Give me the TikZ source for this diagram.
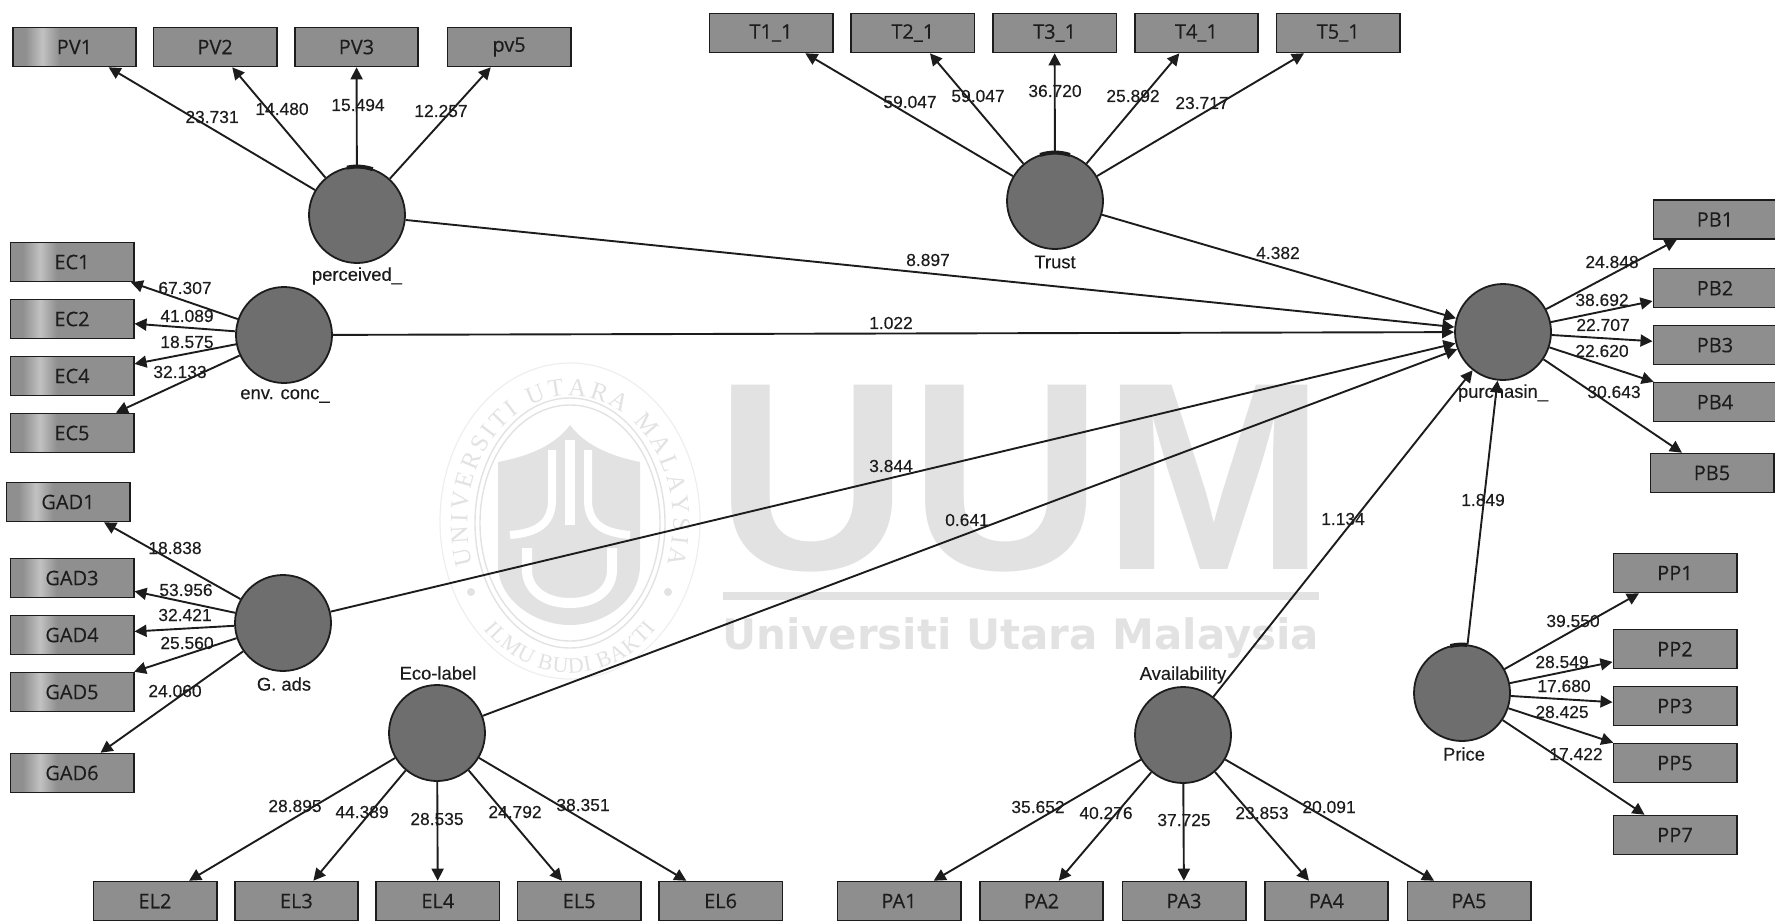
\documentclass[tikz,border=0pt]{standalone}
\usepackage{fontspec}
\usepackage{xcolor}
\usepackage{tikz}
\usetikzlibrary{arrows.meta, positioning, shapes.geometric, decorations.text}
\setmainfont{Liberation Sans}
\newfontfamily\weightfont[FakeBold=0.25]{Liberation Sans}
\newfontfamily\boxfont[FakeBold=0.2]{Open Sans}
\newfontfamily\sealfont{Liberation Serif}
\newfontfamily\bannerfont{DejaVu Sans}
\definecolor{boxgray}{HTML}{8E8E8E}
\definecolor{circlegray}{HTML}{6E6E6E}
\definecolor{inkgray}{HTML}{1C1C1C}
\definecolor{markgray}{HTML}{E2E2E2}
\pgfdeclarehorizontalshading{boxband}{100bp}{rgb(0bp)=(0.56,0.56,0.56); rgb(30bp)=(0.56,0.56,0.56); rgb(37bp)=(0.76,0.76,0.76); rgb(44bp)=(0.56,0.56,0.56); rgb(100bp)=(0.56,0.56,0.56)}

\begin{document}
\begin{tikzpicture}[
    x=0.5pt, y=-0.5pt,
    node distance=8.2pt,
    every node/.style={text=inkgray, align=center},
    indicator/.style={rectangle, draw=inkgray, fill=boxgray, minimum width=61.7pt, minimum height=19.5pt, line width=0.8pt, inner sep=0pt, font=\boxfont\fontsize{10}{10}\selectfont},
    bandindicator/.style={indicator, shading=boxband},
    latent/.style={circle, draw=inkgray, fill=circlegray, minimum size=48pt, line width=0.9pt, inner sep=0pt},
    weight/.style={inner sep=0pt, font=\weightfont\fontsize{8.7}{9}\selectfont},
    caption/.style={inner sep=0pt, font=\weightfont\fontsize{9.2}{10}\selectfont},
    arrow/.style={-{Triangle[length=6pt, width=6pt]}, line width=0.95pt, draw=inkgray},
    patch/.style={line width=2pt, draw=inkgray}
]
\useasboundingbox (0,0) rectangle (1775,921);

% Watermark
\node (bigname) [inner sep=0pt, text=markgray, font=\fontsize{134}{134}\bfseries\selectfont] at (1021,479) {UUM};
\fill [markgray] (723,592) rectangle (1319,600);
\node (fullname) [inner sep=0pt, text=markgray, font=\bannerfont\bfseries\fontsize{21}{22}\selectfont] at (1021,638) {Universiti Utara Malaysia};
\draw [markgray!60, line width=0.6pt] (570,521) ellipse [x radius=65pt, y radius=79pt];
\draw [markgray, line width=0.7pt] (570,523) ellipse [x radius=47.5pt, y radius=62.5pt];
\draw [markgray, line width=0.7pt] (570,523) ellipse [x radius=45pt, y radius=59pt];
\path [decorate, decoration={text along path, text align=fit to path, text={|\sealfont\fontsize{12.5}{13}\selectfont\color{markgray}|UNIVERSITI UTARA MALAYSIA}}] (473,564) arc [start angle=199, end angle=-19, x radius=51.5pt, y radius=63.5pt];
\path [decorate, decoration={text along path, text align=fit to path, text={|\sealfont\fontsize{11}{12}\selectfont\color{markgray}|ILMU BUDI BAKTI}}] (484,629) arc [start angle=225, end angle=315, x radius=61pt, y radius=75pt];
\fill [markgray] (471,592) circle [radius=2pt];
\fill [markgray] (668,592) circle [radius=2pt];
\fill [markgray] (498,462) .. controls (530,456) and (555,445) .. (570,425) .. controls (585,445) and (610,456) .. (640,462) -- (640,565) .. controls (640,600) and (605,625) .. (570,625) .. controls (535,625) and (498,600) .. (498,565) -- cycle;
\draw [white, line width=5pt] (570,440) -- (570,525);
\draw [white, line width=4pt] (552,450) -- (552,500) .. controls (552,525) and (535,533) .. (510,535);
\draw [white, line width=4pt] (588,450) -- (588,500) .. controls (588,525) and (605,533) .. (630,535);
\draw [white, line width=5pt] (527,548) -- (527,570) .. controls (527,590) and (545,603) .. (570,603) .. controls (595,603) and (612,590) .. (612,570) -- (612,548);

% Latent variables
\node (perceived) [latent] at (357,215) {};
\node (envconc) [latent] at (284,335) {};
\node (gads) [latent] at (283,623) {};
\node (ecolabel) [latent] at (437,733) {};
\node (availability) [latent] at (1183,735) {};
\node (price) [latent] at (1462,693) {};
\node (trust) [latent] at (1055,201) {};
\node (purchasing) [latent] at (1503,332) {};

\draw [patch] ([shift={(102:24.2pt)}]perceived.center) arc [start angle=102, end angle=71, radius=24.2pt];
\draw [patch] ([shift={(108:24.2pt)}]trust.center) arc [start angle=108, end angle=72, radius=24.2pt];
\draw [patch] ([shift={(104:24.2pt)}]price.center) arc [start angle=104, end angle=84, radius=24.2pt];

\node (perceivedname) [caption] at (357,276) {perceived\_};
\node (envconcname) [caption] at (285,396) {env. conc\_};
\node (gadsname) [caption] at (284,684) {G. ads};
\node (ecolabelname) [caption] at (438,673) {Eco-label};
\node (availabilityname) [caption] at (1183,675) {Availability};
\node (pricename) [caption] at (1464,754) {Price};
\node (trustname) [caption] at (1055,262) {Trust};
\node (purchasingname) [caption] at (1503,393) {purchasin\_};

% Indicators
\node (PV1) [bandindicator] at (74.5,47) {PV1};
\node (PV2) [indicator, right=7.8pt of PV1] {PV2};
\node (PV3) [indicator, right=of PV2] {PV3};
\node (pv5) [indicator, right=13.8pt of PV3] {pv5};

\node (EC1) [bandindicator] at (72,262) {EC1};
\node (EC2) [bandindicator, below=of EC1] {EC2};
\node (EC4) [bandindicator, below=of EC2] {EC4};
\node (EC5) [bandindicator, below=of EC4] {EC5};

\node (GAD1) [bandindicator] at (68,502) {GAD1};
\node (GAD3) [bandindicator] at (72,578) {GAD3};
\node (GAD4) [bandindicator, below=of GAD3] {GAD4};
\node (GAD5) [bandindicator, below=of GAD4] {GAD5};
\node (GAD6) [bandindicator, below=20.2pt of GAD5] {GAD6};

\node (EL2) [indicator] at (155,901) {EL2};
\node (EL3) [indicator, right=of EL2] {EL3};
\node (EL4) [indicator, right=of EL3] {EL4};
\node (EL5) [indicator, right=of EL4] {EL5};
\node (EL6) [indicator, right=of EL5] {EL6};

\node (PA1) [indicator] at (899,901) {PA1};
\node (PA2) [indicator, right=8.75pt of PA1] {PA2};
\node (PA3) [indicator, right=8.75pt of PA2] {PA3};
\node (PA4) [indicator, right=8.75pt of PA3] {PA4};
\node (PA5) [indicator, right=8.75pt of PA4] {PA5};

\node (T1) [indicator] at (771,33) {T1\_1};
\node (T2) [indicator, right=8.4pt of T1] {T2\_1};
\node (T3) [indicator, right=8.4pt of T2] {T3\_1};
\node (T4) [indicator, right=8.4pt of T3] {T4\_1};
\node (T5) [indicator, right=8.4pt of T4] {T5\_1};

\node (PB1) [indicator] at (1715,219.5) {PB1};
\node (PB2) [indicator, below=14pt of PB1] {PB2};
\node (PB3) [indicator, below=of PB2] {PB3};
\node (PB4) [indicator, below=of PB3] {PB4};
\node (PB5) [indicator] at (1712,473) {PB5};

\node (PP1) [indicator] at (1675,573) {PP1};
\node (PP2) [indicator, below=17.7pt of PP1] {PP2};
\node (PP3) [indicator, below=of PP2] {PP3};
\node (PP5) [indicator, below=of PP3] {PP5};
\node (PP7) [indicator, below=15.7pt of PP5] {PP7};

% Arrows
\draw [arrow] (perceived) -- (PV1);
\draw [arrow] (perceived) -- (PV2);
\draw [arrow] (perceived) -- (PV3);
\draw [arrow] (perceived) -- (pv5);

\draw [arrow] (envconc) -- (EC1);
\draw [arrow] (envconc) -- (EC2);
\draw [arrow] (envconc) -- (EC4);
\draw [arrow] (envconc) -- (EC5);

\draw [arrow] (gads) -- (GAD1);
\draw [arrow] (gads) -- (GAD3);
\draw [arrow] (gads) -- (GAD4);
\draw [arrow] (gads) -- (GAD5);
\draw [arrow] (gads) -- (GAD6);

\draw [arrow] (ecolabel) -- (EL2);
\draw [arrow] (ecolabel) -- (EL3);
\draw [arrow] (ecolabel) -- (EL4);
\draw [arrow] (ecolabel) -- (EL5);
\draw [arrow] (ecolabel) -- (EL6);

\draw [arrow] (availability) -- (PA1);
\draw [arrow] (availability) -- (PA2);
\draw [arrow] (availability) -- (PA3);
\draw [arrow] (availability) -- (PA4);
\draw [arrow] (availability) -- (PA5);

\draw [arrow] (trust) -- (T1);
\draw [arrow] (trust) -- (T2);
\draw [arrow] (trust) -- (T3);
\draw [arrow] (trust) -- (T4);
\draw [arrow] (trust) -- (T5);

\draw [arrow] (purchasing) -- (PB1);
\draw [arrow] (purchasing) -- (PB2);
\draw [arrow] (purchasing) -- (PB3);
\draw [arrow] (purchasing) -- (PB4);
\draw [arrow] (purchasing) -- (PB5);

\draw [arrow] (price) -- (PP1);
\draw [arrow] (price) -- (PP2);
\draw [arrow] (price) -- (PP3);
\draw [arrow] (price) -- (PP5);
\draw [arrow] (price) -- (PP7);

% Paths into purchasing
\draw [arrow] (perceived) -- (purchasing);
\draw [arrow] (envconc) -- (purchasing);
\draw [arrow] (trust) -- (purchasing);
\draw [arrow] (gads) -- (purchasing);
\draw [arrow] (ecolabel) -- (purchasing);
\draw [arrow] (availability) -- (purchasing);
\draw [arrow] (price) -- (purchasing);

% Values
\node (wPV1) [weight] at (212,117) {23.731};
\node (wPV2) [weight] at (282,109) {14.480};
\node (wPV3) [weight] at (358,105) {15.494};
\node (wPV5) [weight] at (441,111) {12.257};

\node (wEC1) [weight] at (185,288) {67.307};
\node (wEC2) [weight] at (187,316) {41.089};
\node (wEC4) [weight] at (187,342) {18.575};
\node (wEC5) [weight] at (180,372) {32.133};

\node (wGAD1) [weight] at (175,548) {18.838};
\node (wGAD3) [weight] at (186,590) {53.956};
\node (wGAD4) [weight] at (185,615) {32.421};
\node (wGAD5) [weight] at (187,643) {25.560};
\node (wGAD6) [weight] at (175,691) {24.060};

\node (wEL2) [weight] at (295,806) {28.895};
\node (wEL3) [weight] at (362,812) {44.389};
\node (wEL4) [weight] at (437,819) {28.535};
\node (wEL5) [weight] at (515,812) {24.792};
\node (wEL6) [weight] at (583,805) {38.351};

\node (wPA1) [weight] at (1038,807) {35.652};
\node (wPA2) [weight] at (1106,813) {40.276};
\node (wPA3) [weight] at (1184,820) {37.725};
\node (wPA4) [weight] at (1262,813) {23.853};
\node (wPA5) [weight] at (1329,807) {20.091};

\node (wT1) [weight] at (910,102) {59.047};
\node (wT2) [weight] at (978,96) {59.047};
\node (wT3) [weight] at (1055,91) {36.720};
\node (wT4) [weight] at (1133,96) {25.892};
\node (wT5) [weight] at (1202,103) {23.717};

\node (wPB1) [weight] at (1612,262) {24.848};
\node (wPB2) [weight] at (1602,300) {38.692};
\node (wPB3) [weight] at (1603,325) {22.707};
\node (wPB4) [weight] at (1602,351) {22.620};
\node (wPB5) [weight] at (1614,392) {30.643};

\node (wPP1) [weight] at (1573,621) {39.550};
\node (wPP2) [weight] at (1562,662) {28.549};
\node (wPP3) [weight] at (1564,686) {17.680};
\node (wPP5) [weight] at (1562,712) {28.425};
\node (wPP7) [weight] at (1576,754) {17.422};

\node (pathperceived) [weight] at (928,260) {8.897};
\node (pathtrust) [weight] at (1278,253) {4.382};
\node (pathenv) [weight] at (891,323) {1.022};
\node (pathgads) [weight] at (891,466) {3.844};
\node (patheco) [weight] at (967,520) {0.641};
\node (pathavail) [weight] at (1343,519) {1.134};
\node (pathprice) [weight] at (1483,500) {1.849};

\end{tikzpicture}
\end{document}
